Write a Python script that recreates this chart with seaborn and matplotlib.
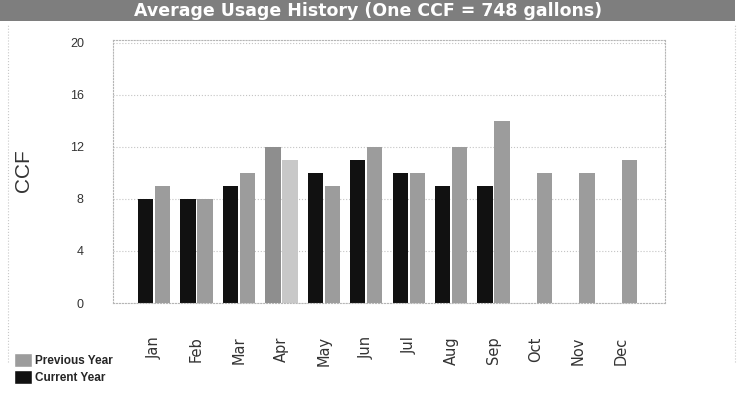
import matplotlib
matplotlib.use("Agg")
import matplotlib.pyplot as plt
import seaborn as sns
import pandas as pd
from matplotlib.patches import Patch, Rectangle
from matplotlib.lines import Line2D

# Monthly water usage in CCF
months = ["Jan", "Feb", "Mar", "Apr", "May", "Jun",
          "Jul", "Aug", "Sep", "Oct", "Nov", "Dec"]
current_year = [8, 8, 9, 12, 10, 11, 10, 9, 9, None, None, None]
previous_year = [9, 8, 10, 11, 9, 12, 10, 12, 14, 10, 10, 11]
y_ticks = [0, 4, 8, 12, 16, 20]
series_names = ["Current Year", "Previous Year"]
title = "Average Usage History (One CCF = 748 gallons)"
y_label = "CCF"

df = pd.DataFrame({
    "Month": months * 2,
    "CCF": current_year + previous_year,
    "Series": [series_names[0]] * len(months) + [series_names[1]] * len(months),
})

sns.set_theme(style="white")
plt.rcParams["font.family"] = ["DejaVu Sans"]

cur_color = "#111111"
prev_color = "#9c9c9c"
palette = {series_names[0]: cur_color, series_names[1]: prev_color}

fig = plt.figure(figsize=(7.41, 3.93), dpi=100)
ax = fig.add_axes([113 / 741, 1 - 303 / 393, 552 / 741, 263 / 393])

sns.barplot(data=df, x="Month", y="CCF", hue="Series", order=months,
            hue_order=series_names, palette=palette, saturation=1,
            width=0.8, gap=0.1, errorbar=None, legend=False,
            linewidth=0, ax=ax)

# April bars are shaded differently
apr = months.index("Apr")
ax.containers[0][apr].set_facecolor("#8e8e8e")
ax.containers[1][apr].set_facecolor("#c8c8c8")

ax.set_ylim(0, 20.2)
ax.set_xlim(-0.97, 12.04)
ax.set_yticks(y_ticks)
ax.set_xlabel("")
ax.set_ylabel("")
ax.tick_params(axis="y", length=0, pad=21, labelsize=9, labelcolor="#333333")
ax.tick_params(axis="x", length=0, pad=24, labelsize=10.5, labelrotation=90,
               labelcolor="#333333")
for lbl in ax.get_yticklabels():
    lbl.set_fontfamily("Liberation Sans")

ax.yaxis.grid(True, linestyle=":", color="#c4c4c4", linewidth=0.8)
ax.xaxis.grid(False)
ax.set_axisbelow(True)
for sp in ax.spines.values():
    sp.set_visible(True)
    sp.set_linestyle(":")
    sp.set_color("#b5b5b5")
    sp.set_linewidth(0.8)

# Title banner
fig.patches.append(Rectangle((0, 1 - 21 / 393), 735 / 741, 21 / 393,
                             transform=fig.transFigure, facecolor="#7e7e7e",
                             edgecolor="none", zorder=0))
fig.text(368 / 741, 1 - 11 / 393, title, ha="center", va="center",
         color="white", fontweight="bold", fontsize=12.5)

fig.text(23 / 741, 1 - 171 / 393, y_label, rotation=90, ha="center",
         va="center", fontsize=15, color="#333333", family="Liberation Sans")

# Outer frame
for xf in (8 / 741, 735 / 741):
    fig.add_artist(Line2D([xf, xf], [0.08, 1 - 24 / 393],
                          transform=fig.transFigure, linestyle=":",
                          color="#c8c8c8", linewidth=0.8))

handles = [Patch(facecolor=prev_color, label=series_names[1]),
           Patch(facecolor=cur_color, label=series_names[0])]
fig.legend(handles=handles, loc="lower left",
           bbox_to_anchor=(14 / 741, 9 / 393), frameon=False,
           prop={"family": "Liberation Sans", "weight": "bold", "size": 8.5},
           handlelength=1.5, handleheight=1.4, handletextpad=0.25,
           labelspacing=0.3, borderpad=0, borderaxespad=0)

fig.savefig("out.png", dpi=100)
